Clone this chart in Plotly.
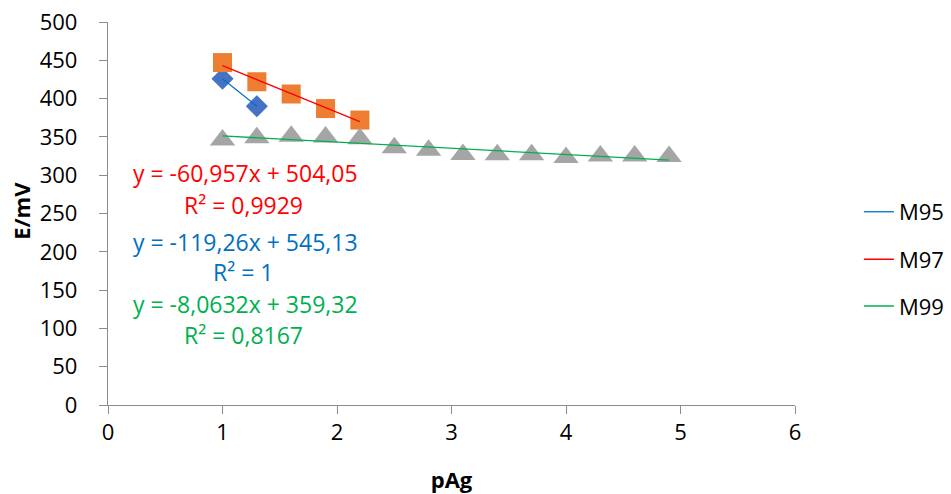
import plotly.graph_objects as go

# Data
x_m95 = [1.0, 1.3]
y_m95 = [425.87, 390.09]
x_m97 = [1.0, 1.3, 1.6, 1.9, 2.2]
y_m97 = [447, 422, 406, 387, 372]
x_m99 = [1.0, 1.3, 1.6, 1.9, 2.2, 2.5, 2.8, 3.1, 3.4, 3.7, 4.0, 4.3, 4.6, 4.9]
y_m99 = [346, 349, 351, 350, 347.5, 335.7, 332.5, 327, 326.6, 326.6, 323, 325, 325, 324.5]

# Trendline coefficients (slope, intercept) and R^2 labels
fit_m95 = (-119.26, 545.13)
fit_m97 = (-60.957, 504.05)
fit_m99 = (-8.0632, 359.32)
eq_texts = [
    ("y = -60,957x + 504,05", "R² = 0,9929", "#FF0000"),
    ("y = -119,26x + 545,13", "R² = 1", "#0070C0"),
    ("y = -8,0632x + 359,32", "R² = 0,8167", "#00B050"),
]
x_ticks = [0, 1, 2, 3, 4, 5, 6]
y_ticks = [0, 50, 100, 150, 200, 250, 300, 350, 400, 450, 500]

FONT = "Open Sans"
FS = 22
FS_EQ = 23
AXC = "#8C8C8C"
NB = "\u00a0"

fig = go.Figure()

fig.add_trace(go.Scatter(x=x_m95, y=y_m95, mode="markers", showlegend=False,
                         marker=dict(symbol="diamond", size=17, color="#4472C4")))
fig.add_trace(go.Scatter(x=x_m97, y=y_m97, mode="markers", showlegend=False,
                         marker=dict(symbol="square", size=19, color="#ED7D31")))
fig.add_trace(go.Scatter(x=x_m99, y=y_m99, mode="markers", showlegend=False,
                         marker=dict(symbol="triangle-up", size=22, color="#A5A5A5")))

def trend(xs, fit):
    a, b = fit
    xx = [xs[0], xs[-1]]
    return xx, [a * v + b for v in xx]

for name, xs, fit, col, lg in [("M95", x_m95, fit_m95, "#0070C0", "legend"),
                              ("M97", x_m97, fit_m97, "#FF0000", "legend2"),
                              ("M99", x_m99, fit_m99, "#00B050", "legend3")]:
    tx, ty = trend(xs, fit)
    fig.add_trace(go.Scatter(x=tx, y=ty, mode="lines", name=name, legend=lg,
                             line=dict(color=col, width=1.3)))

ann = []
eq_y = [(303, 261), (213, 174), (132, 91)]
for (eq, r2, col), (ye, yr) in zip(eq_texts, eq_y):
    ann.append(dict(x=1.197, y=ye, xref="x", yref="y", text=eq, showarrow=False,
                    font=dict(size=FS_EQ, color=col, family=FONT)))
    ann.append(dict(x=1.18, y=yr, xref="x", yref="y", text=r2, showarrow=False,
                    font=dict(size=FS_EQ, color=col, family=FONT)))
# y-axis title
ann.append(dict(x=-0.1266, y=0.507, xref="paper", yref="paper", text="<b>E/mV</b>",
                textangle=-90, showarrow=False, xanchor="center", yanchor="middle",
                font=dict(size=FS, color="#000000", family=FONT)))

legend_common = dict(xanchor="left", yanchor="middle", bgcolor="rgba(0,0,0,0)",
                     font=dict(size=FS, color="#000000", family=FONT))

fig.update_layout(
    template="simple_white",
    width=951, height=494,
    margin=dict(l=108, r=156, t=22, b=89, autoexpand=False),
    plot_bgcolor="white", paper_bgcolor="white",
    font=dict(family=FONT, size=FS, color="#000000"),
    annotations=ann,
    legend=dict(x=1.093, y=0.504, **legend_common),
    legend2=dict(x=1.093, y=0.380, **legend_common),
    legend3=dict(x=1.093, y=0.258, **legend_common),
    xaxis=dict(range=[0, 6], tickvals=x_ticks, showgrid=False, zeroline=False,
               showline=True, linecolor=AXC, linewidth=1, automargin=False,
               ticks="outside", ticklen=8, tickwidth=1, tickcolor=AXC,
               tickfont=dict(size=FS, color="#000000"),
               title=dict(text="<b>pAg</b>", font=dict(size=FS), standoff=28)),
    yaxis=dict(range=[0, 500], tickvals=y_ticks, ticktext=[f"{v}{NB * 3}" for v in y_ticks],
               showgrid=False, zeroline=False,
               showline=True, linecolor=AXC, linewidth=1, automargin=False,
               ticks="outside", ticklen=8, tickwidth=1, tickcolor=AXC,
               tickfont=dict(size=FS, color="#000000")),
)

fig.write_html("out.html", config={"displayModeBar": False},
               post_script="document.body.style.margin='0';document.body.style.padding='0';")
